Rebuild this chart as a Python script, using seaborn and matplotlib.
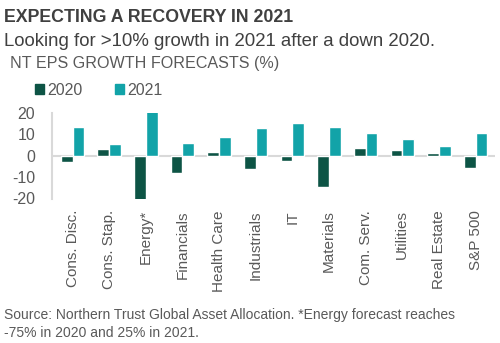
import matplotlib
matplotlib.use("Agg")
import matplotlib.pyplot as plt
import seaborn as sns
import pandas as pd
from matplotlib.patches import Patch

categories = ["Cons. Disc.", "Cons. Stap.", "Energy*", "Financials", "Health Care",
              "Industrials", "IT", "Materials", "Com. Serv.", "Utilities",
              "Real Estate", "S&P 500"]
growth_2020 = [-3.3, 3.3, -75, -8.4, 1.6, -6.3, -2.5, -14.9, 3.4, 2.5, 1.2, -5.7]
growth_2021 = [13.5, 5.6, 25, 5.8, 9.0, 13.0, 15.2, 13.7, 10.9, 7.9, 4.6, 10.5]
series = ["2020", "2021"]
yticks = [-20, -10, 0, 10, 20]

df = pd.DataFrame({
    "cat": categories * 2,
    "year": [series[0]] * len(categories) + [series[1]] * len(categories),
    "value": growth_2020 + growth_2021,
})

sns.set_theme(style="white")
plt.rcParams["font.family"] = ["Liberation Sans", "DejaVu Sans"]

GRAY = "#595959"
C20, C21 = "#0D5445", "#12A3A8"
fig = plt.figure(figsize=(5.0, 3.43), dpi=100)
ax = fig.add_axes([0.104, 0.42, 0.886, 0.252])

sns.barplot(data=df, x="cat", y="value", hue="year", order=categories,
            hue_order=series, palette=[C20, C21],
            width=0.64, saturation=1, ax=ax, legend=False)

ax.set_ylim(-20.6, 20.4)
ax.set_xlim(-0.56, len(categories) - 1 + 0.53)
ax.set_yticks(yticks)
ax.set_yticklabels([str(t) for t in yticks], color=GRAY, fontsize=11.5)
ax.tick_params(axis="y", length=0, pad=12)
ax.tick_params(axis="x", length=0, pad=8)
ax.set_xticks(range(len(categories)))
ax.set_xticklabels(categories, rotation=90, color=GRAY, fontsize=11)
ax.set_xlabel("")
ax.set_ylabel("")
for s in ["top", "right", "bottom"]:
    ax.spines[s].set_visible(False)
ax.spines["left"].set_color("#D9D9D9")
ax.spines["left"].set_linewidth(1.5)
ax.axhline(0, color="#D9D9D9", lw=1.5, zorder=0)

handles = [Patch(color=C20, label="2020"), Patch(color=C21, label="2021")]
fig.legend(handles=handles, loc="upper left", bbox_to_anchor=(0.041, 0.80), ncol=2,
           frameon=False, fontsize=11.5, handlelength=0.6, handleheight=0.6,
           handletextpad=0.2, columnspacing=2.0, labelcolor=GRAY)

fig.text(0.008, 0.975, "EXPECTING A RECOVERY IN 2021", fontsize=12.8, fontweight="bold",
         color="#404040", va="top")
fig.text(0.008, 0.905, "Looking for >10% growth in 2021 after a down 2020.", fontsize=13.4,
         color="#404040", va="top")
fig.text(0.02, 0.836, "NT EPS GROWTH FORECASTS (%)", fontsize=11.6, color=GRAY, va="top")
fig.text(0.008, 0.102, "Source: Northern Trust Global Asset Allocation. *Energy forecast reaches\n-75% in 2020 and 25% in 2021.",
         fontsize=10, color=GRAY, va="top", linespacing=1.35)

fig.savefig("out.png", dpi=100)
